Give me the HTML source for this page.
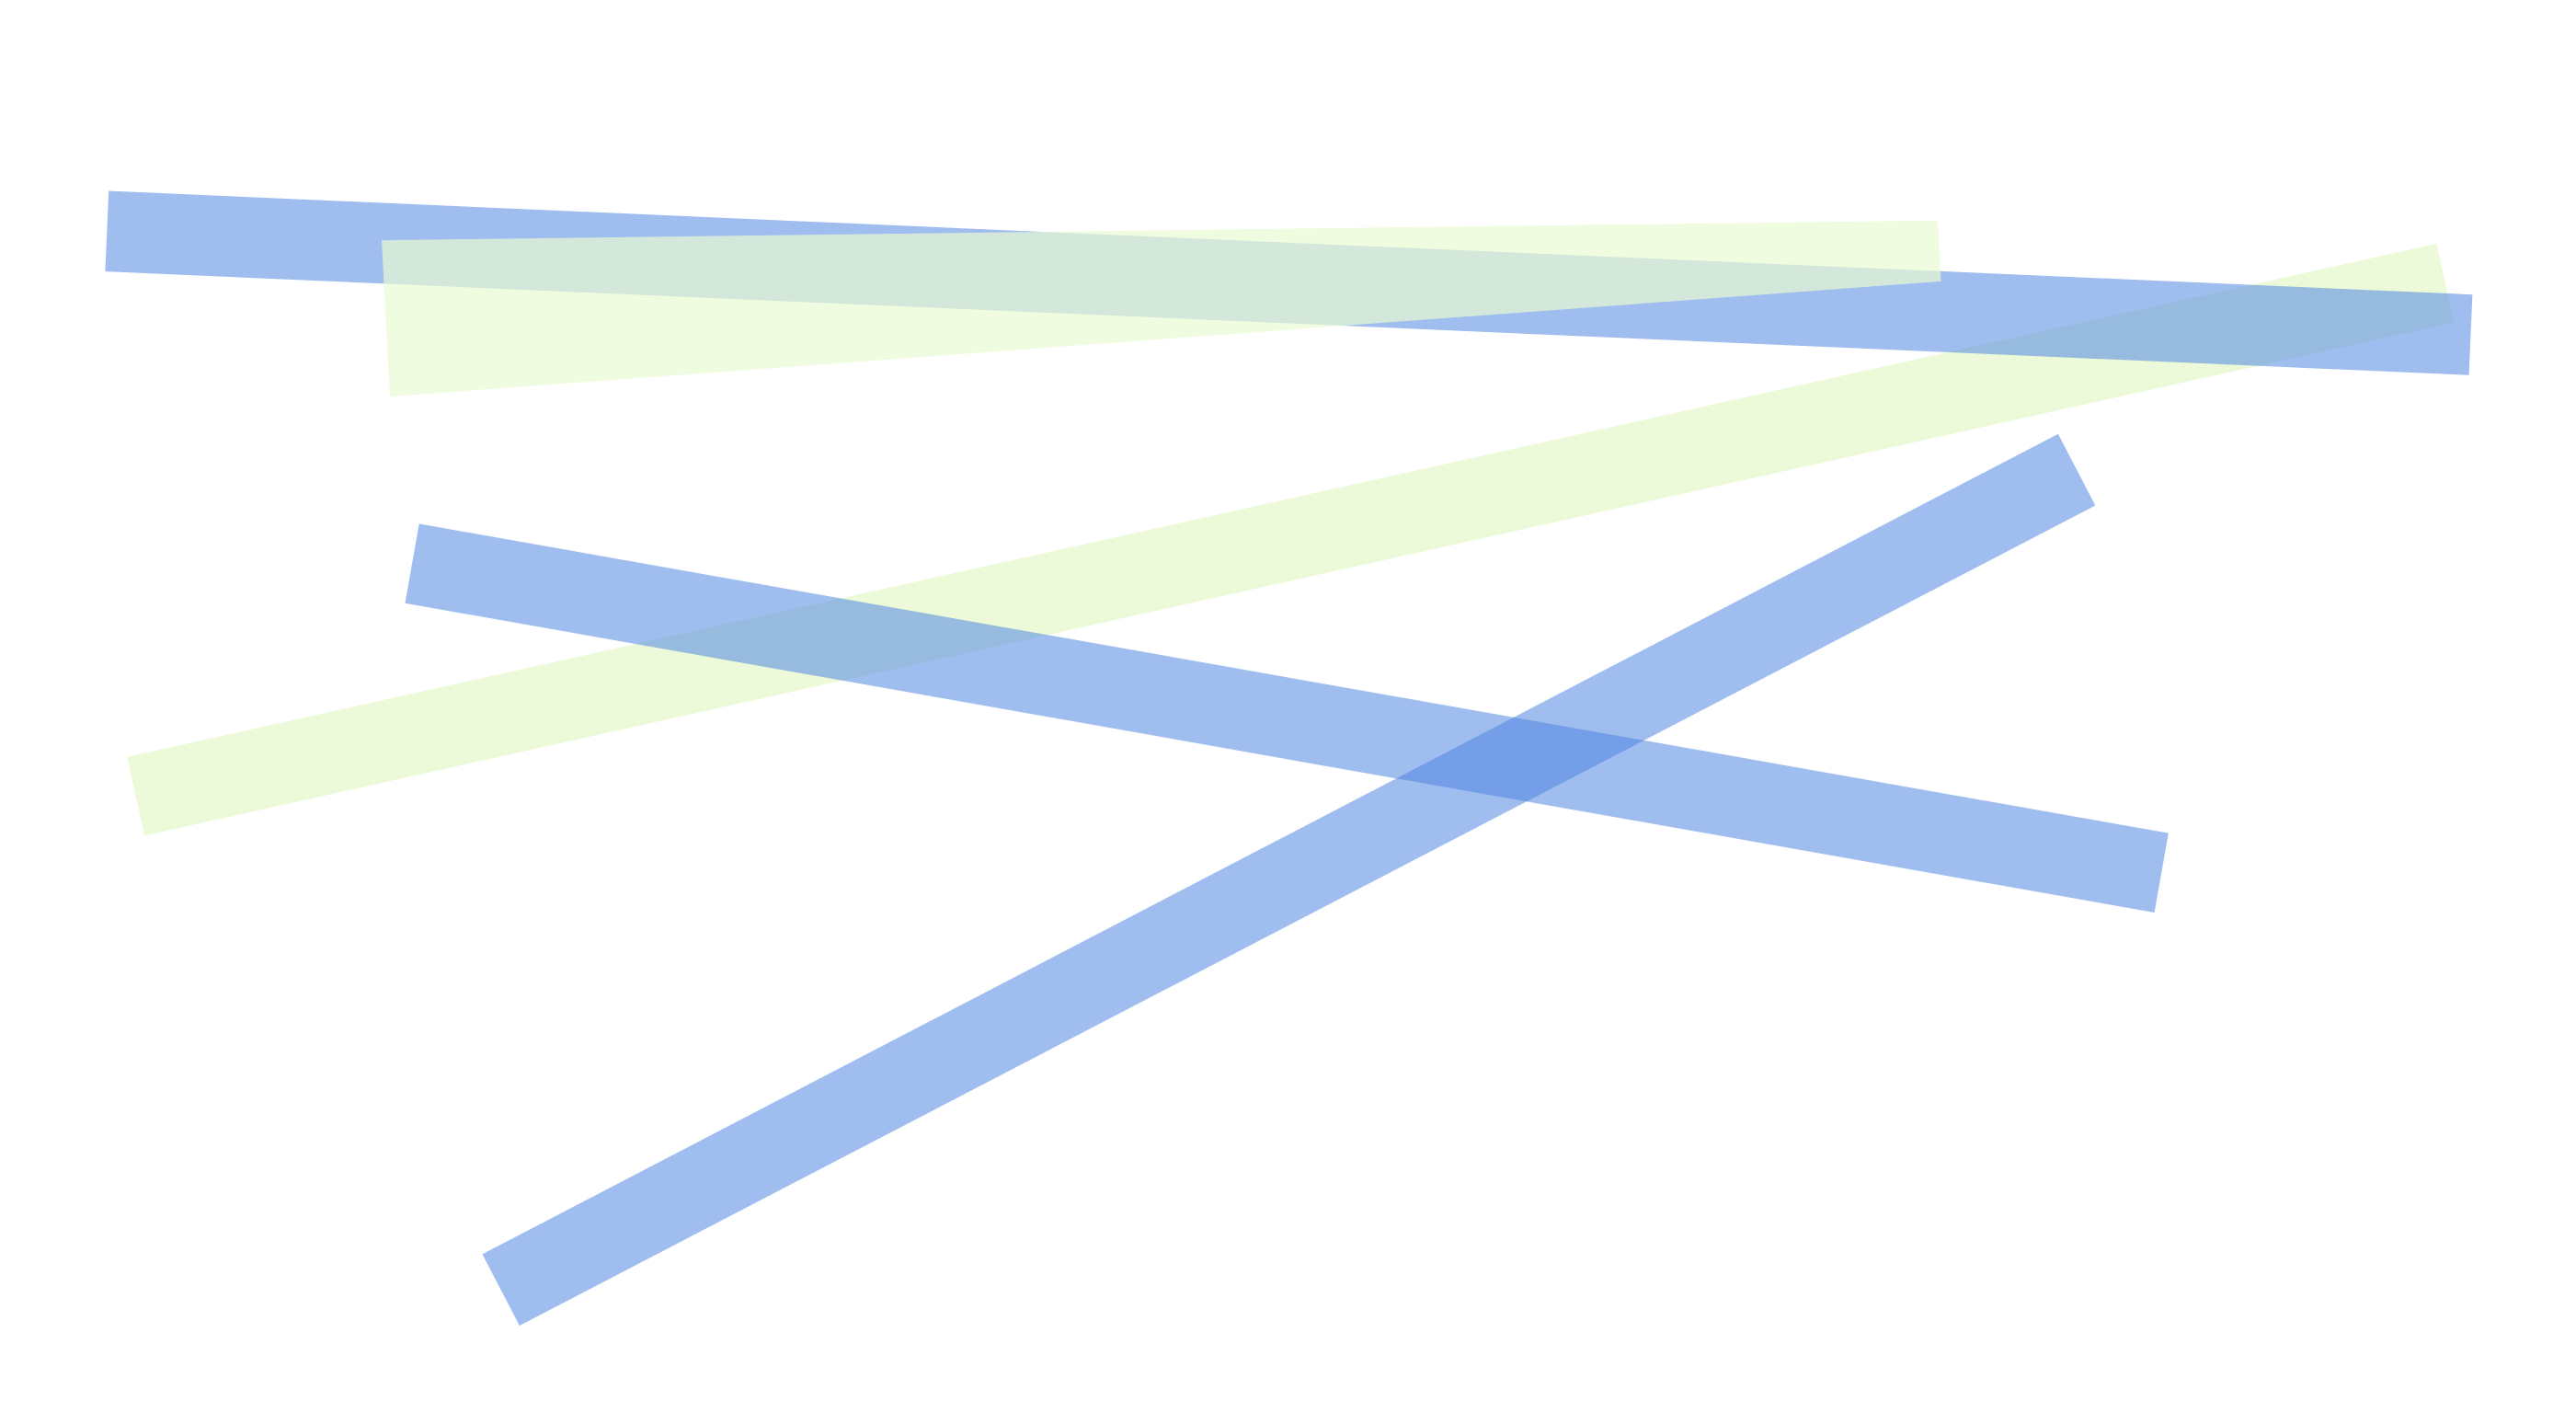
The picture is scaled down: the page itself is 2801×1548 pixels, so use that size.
<!DOCTYPE html>
<html><head><meta charset="utf-8"><style>html,body{margin:0;padding:0;background:#fff;}svg{display:block;}</style></head>
<body>
<svg id="chart" width="2801" height="1548" viewBox="0 0 1566 865.5" xmlns="http://www.w3.org/2000/svg"></svg>
<script>
// Segment data (display units; viewBox scaled to full size)
const segX1 = [82.5, 65, 250.5, 1262.5];
const segY1 = [484, 140.5, 342.5, 285.5];
const segX2 = [1486.5, 1502, 1314, 304.5];
const segY2 = [172, 203.5, 530.5, 784];
const segSeries = ['yellow', 'blue', 'blue', 'blue'];
const areaX = [232, 1178, 1180, 237];
const areaY = [146, 134, 171, 241];

const NS = 'http://www.w3.org/2000/svg';
const svg = document.getElementById('chart');
const colors = { blue: 'rgba(80,135,225,0.55)', yellow: 'rgba(215,245,170,0.45)' };
const W = 49;

for (let i = 0; i < segX1.length; i++) {
  const l = document.createElementNS(NS, 'line');
  l.setAttribute('x1', segX1[i]); l.setAttribute('y1', segY1[i]);
  l.setAttribute('x2', segX2[i]); l.setAttribute('y2', segY2[i]);
  l.setAttribute('stroke', colors[segSeries[i]]);
  l.setAttribute('stroke-width', W);
  l.setAttribute('stroke-linecap', 'butt');
  
  
  svg.appendChild(l);
}

const poly = document.createElementNS(NS, 'polygon');
poly.setAttribute('points', areaX.map((x, i) => x + ',' + areaY[i]).join(' '));
poly.setAttribute('fill', 'rgba(233,251,209,0.7)');


svg.appendChild(poly);
</script>
</body></html>
